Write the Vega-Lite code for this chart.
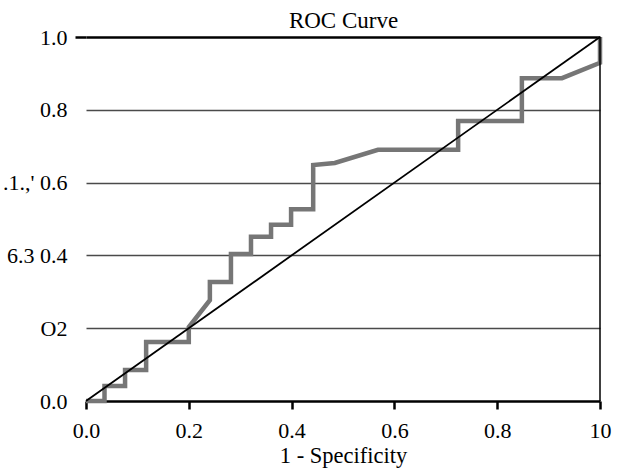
{
  "$schema": "https://vega.github.io/schema/vega-lite/v6.json",
  "autosize": {"type": "none"},
  "width": 514,
  "height": 364,
  "padding": {"left": 86, "top": 37, "right": 26, "bottom": 71},
  "background": "white",
  "config": {
    "view": {"stroke": null},
    "font": "Liberation Serif"
  },
  "resolve": {"axis": {"x": "independent"}},
  "datasets": {
    "roc": [
      {"order": 1, "fpr": 0.0, "tpr": 0.0},
      {"order": 2, "fpr": 0.036, "tpr": 0.0},
      {"order": 3, "fpr": 0.036, "tpr": 0.041},
      {"order": 4, "fpr": 0.076, "tpr": 0.041},
      {"order": 5, "fpr": 0.076, "tpr": 0.085},
      {"order": 6, "fpr": 0.117, "tpr": 0.085},
      {"order": 7, "fpr": 0.117, "tpr": 0.162},
      {"order": 8, "fpr": 0.2, "tpr": 0.162},
      {"order": 9, "fpr": 0.2, "tpr": 0.203},
      {"order": 10, "fpr": 0.241, "tpr": 0.277},
      {"order": 11, "fpr": 0.241, "tpr": 0.327},
      {"order": 12, "fpr": 0.282, "tpr": 0.327},
      {"order": 13, "fpr": 0.282, "tpr": 0.404},
      {"order": 14, "fpr": 0.321, "tpr": 0.404},
      {"order": 15, "fpr": 0.321, "tpr": 0.451},
      {"order": 16, "fpr": 0.36, "tpr": 0.451},
      {"order": 17, "fpr": 0.36, "tpr": 0.484},
      {"order": 18, "fpr": 0.399, "tpr": 0.484},
      {"order": 19, "fpr": 0.399, "tpr": 0.527},
      {"order": 20, "fpr": 0.442, "tpr": 0.527},
      {"order": 21, "fpr": 0.442, "tpr": 0.648},
      {"order": 22, "fpr": 0.484, "tpr": 0.654},
      {"order": 23, "fpr": 0.568, "tpr": 0.69},
      {"order": 24, "fpr": 0.724, "tpr": 0.69},
      {"order": 25, "fpr": 0.724, "tpr": 0.769},
      {"order": 26, "fpr": 0.848, "tpr": 0.769},
      {"order": 27, "fpr": 0.848, "tpr": 0.887},
      {"order": 28, "fpr": 0.926, "tpr": 0.887},
      {"order": 29, "fpr": 1.0, "tpr": 0.929},
      {"order": 30, "fpr": 1.0, "tpr": 1.0}
    ],
    "diag": [
      {"fpr": 0.0, "tpr": 0.0},
      {"fpr": 1.0, "tpr": 1.0}
    ]
  },
  "layer": [
    {
      "data": {"name": "roc"},
      "mark": {"type": "line", "color": "#767676", "strokeWidth": 4.5, "strokeJoin": "miter", "strokeCap": "butt", "clip": false},
      "encoding": {
        "x": {
          "field": "fpr", "type": "quantitative",
          "scale": {"domain": [0, 1], "nice": false, "zero": false},
          "axis": {
            "orient": "bottom",
            "values": [0, 0.2, 0.4, 0.6, 0.8, 1],
            "labelExpr": "datum.value == 1 ? '10' : format(datum.value, '.1f')",
            "grid": false,
            "domainColor": "black",
            "domainWidth": 2.5,
            "tickColor": "black",
            "tickWidth": 2.5,
            "tickSize": 8,
            "labelFont": "Liberation Serif",
            "labelFontSize": 22,
            "labelColor": "black",
            "labelPadding": 11,
            "labelFlush": false,
            "title": "1 - Specificity",
            "titleFont": "Liberation Serif",
            "titleFontSize": 22.5,
            "titleFontWeight": "normal",
            "titleColor": "black",
            "titlePadding": 3
          }
        },
        "y": {
          "field": "tpr", "type": "quantitative",
          "scale": {"domain": [0, 1], "nice": false, "zero": false},
          "axis": {
            "values": [0, 0.2, 0.4, 0.6, 0.8, 1],
            "labelExpr": "datum.value == 0.6 ? \".1.,' 0.6\" : datum.value == 0.4 ? '6.3 0.4' : datum.value == 0.2 ? 'O2' : format(datum.value, '.1f')",
            "domain": false,
            "grid": true,
            "gridColor": {"condition": {"test": "datum.value == 1", "value": "black"}, "value": "#4a4a4a"},
            "gridWidth": {"condition": {"test": "datum.value == 1", "value": 2.5}, "value": 1.3},
            "gridOpacity": {"condition": {"test": "datum.value == 0", "value": 0}, "value": 1},
            "ticks": true,
            "tickSize": 11,
            "tickColor": {"condition": {"test": "datum.value == 1", "value": "black"}, "value": "transparent"},
            "tickWidth": 2.5,
            "labelFont": "Liberation Serif",
            "labelFontSize": 22,
            "labelColor": "black",
            "labelPadding": 8,
            "labelFlush": false,
            "title": null
          }
        },
        "order": {"field": "order", "type": "quantitative"}
      }
    },
    {
      "data": {"name": "diag"},
      "mark": {"type": "line", "color": "black", "strokeWidth": 1.8, "clip": false},
      "encoding": {
        "x": {
          "field": "fpr", "type": "quantitative",
          "axis": {
            "orient": "top",
            "domain": false,
            "ticks": false,
            "labels": false,
            "grid": false,
            "title": "ROC Curve",
            "titleFont": "Liberation Serif",
            "titleFontSize": 23,
            "titleFontWeight": "normal",
            "titleColor": "black",
            "titlePadding": 5
          }
        },
        "y": {"field": "tpr", "type": "quantitative"}
      }
    },
    {
      "data": {"values": [{"fpr": 1}]},
      "mark": {"type": "rule", "color": "black", "strokeWidth": 1.5},
      "encoding": {
        "x": {"field": "fpr", "type": "quantitative", "axis": null}
      }
    }
  ]
}
